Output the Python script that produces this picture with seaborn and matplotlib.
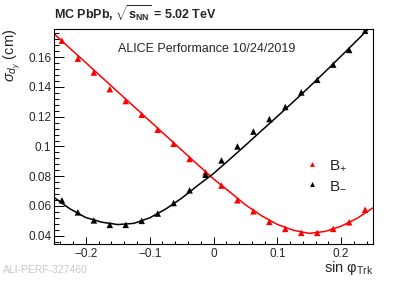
import pandas as pd
import seaborn as sns
import matplotlib.pyplot as plt
from matplotlib.ticker import FixedLocator, MultipleLocator

# bin centres of sin(phi_Trk)
sin_phi = [-0.2375, -0.2125, -0.1875, -0.1625, -0.1375, -0.1125, -0.0875, -0.0625, -0.0375, -0.0125,
           0.0125, 0.0375, 0.0625, 0.0875, 0.1125, 0.1375, 0.1625, 0.1875, 0.2125, 0.2375]

# sigma(d_y) in cm
sigma_bplus = [0.1711, 0.1590, 0.1497, 0.1385, 0.1305, 0.1213, 0.1112, 0.1018, 0.0916, 0.0826,
               0.0737, 0.0638, 0.0564, 0.0493, 0.0446, 0.0419, 0.0419, 0.0446, 0.0490, 0.0575]
sigma_bminus = [0.0638, 0.0557, 0.0503, 0.0473, 0.0473, 0.0500, 0.0549, 0.0620, 0.0705, 0.0810,
                0.0906, 0.1000, 0.1100, 0.1184, 0.1265, 0.1363, 0.1448, 0.1550, 0.1649, 0.1778]

# fit curves
fit_x = [-0.25, -0.225, -0.2, -0.175, -0.15, -0.125, -0.1, -0.075, -0.05, -0.025, 0.0,
         0.025, 0.05, 0.075, 0.1, 0.125, 0.15, 0.175, 0.2, 0.225, 0.25]
fit_bplus = [0.1758, 0.1660, 0.1563, 0.1465, 0.1367, 0.1270, 0.1172, 0.1074, 0.0976, 0.0879, 0.0782,
             0.0696, 0.0608, 0.0535, 0.0476, 0.0437, 0.0416, 0.0429, 0.0464, 0.0517, 0.0588]
fit_bminus = [0.0658, 0.0581, 0.0522, 0.0491, 0.0475, 0.0483, 0.0520, 0.0579, 0.0652, 0.0737, 0.0818,
              0.0912, 0.1008, 0.1105, 0.1202, 0.1300, 0.1400, 0.1503, 0.1608, 0.1714, 0.1821]

x_ticks = [-0.2, -0.1, 0.0, 0.1, 0.2]
x_tick_labels = ['\u22120.2', '\u22120.1', '0', '0.1', '0.2']
y_ticks = [0.04, 0.06, 0.08, 0.10, 0.12, 0.14, 0.16]
y_tick_labels = ['0.04', '0.06', '0.08', '0.1', '0.12', '0.14', '0.16']

lab_plus = 'B$_{+}$'
lab_minus = 'B$_{-}$'

df = pd.DataFrame({
    'sin_phi': sin_phi + sin_phi,
    'sigma': sigma_bplus + sigma_bminus,
    'charge': [lab_plus] * len(sin_phi) + [lab_minus] * len(sin_phi),
})
fits = pd.DataFrame({
    'sin_phi': fit_x + fit_x,
    'sigma': fit_bplus + fit_bminus,
    'charge': [lab_plus] * len(fit_x) + [lab_minus] * len(fit_x),
})
colors = {lab_plus: '#ff0000', lab_minus: '#000000'}

sns.set_theme(style='ticks')
plt.rcParams['font.family'] = ['Liberation Sans', 'DejaVu Sans']
plt.rcParams['mathtext.fontset'] = 'custom'
plt.rcParams['mathtext.rm'] = 'Liberation Sans'
plt.rcParams['mathtext.it'] = 'Liberation Sans:italic'
plt.rcParams['mathtext.bf'] = 'Liberation Sans:bold'

fig = plt.figure(figsize=(4.15, 2.81), dpi=100)
ax = fig.add_axes([0.130, 0.132, 0.769, 0.765])

sns.lineplot(data=fits, x='sin_phi', y='sigma', hue='charge', palette=colors,
             lw=1.1, legend=False, ax=ax)
sns.scatterplot(data=df, x='sin_phi', y='sigma', hue='charge', palette=colors,
                marker='^', s=22, edgecolor='none', ax=ax, zorder=3)

ax.set_xlim(-0.25, 0.25)
ax.set_ylim(0.0345, 0.179)

ax.xaxis.set_major_locator(FixedLocator(x_ticks))
ax.set_xticklabels(x_tick_labels)
ax.xaxis.set_minor_locator(MultipleLocator(0.02))
ax.yaxis.set_major_locator(FixedLocator(y_ticks))
ax.set_yticklabels(y_tick_labels)
ax.yaxis.set_minor_locator(MultipleLocator(0.004))

ax.tick_params(axis='x', which='major', direction='in', length=4.7, width=0.7,
               color='black', labelsize=8.5, pad=3)
ax.tick_params(axis='x', which='minor', direction='in', length=2.3, width=0.7, color='black')
ax.tick_params(axis='y', which='major', direction='in', length=6.9, width=0.7,
               color='black', labelsize=8.5, pad=2)
ax.tick_params(axis='y', which='minor', direction='in', length=3.5, width=0.7, color='black')
for sp in ax.spines.values():
    sp.set_visible(True)
    sp.set_color('black')
    sp.set_linewidth(0.8)

ax.set_xlabel('sin \u03c6$_{\\mathrm{Trk}}$', loc='right', fontsize=10.5)
ax.xaxis.set_label_coords(1.0, -0.072)
ax.set_ylabel(r'$\sigma_{d_{y}}$ (cm)', loc='top', fontsize=10.5)
ax.yaxis.set_label_coords(-0.098, 1.0)

ax.legend(frameon=False, loc='center left', bbox_to_anchor=(0.775, 0.32),
          handlelength=0.6, handletextpad=0.8, labelspacing=0.35, fontsize=11,
          markerscale=0.75, borderaxespad=0)

fig.text(0.130, 0.929, r'MC PbPb, $\mathbf{\sqrt{s_{NN}}}$ = 5.02 TeV',
         fontsize=9, fontweight='bold', va='baseline')
fig.text(0.284, 0.816, 'ALICE Performance 10/24/2019', fontsize=9, va='baseline')
fig.text(0.008, 0.029, 'ALI-PERF-327460', fontsize=7.5, color='#c8c8c8', va='baseline')

fig.savefig('out.png', dpi=100)
